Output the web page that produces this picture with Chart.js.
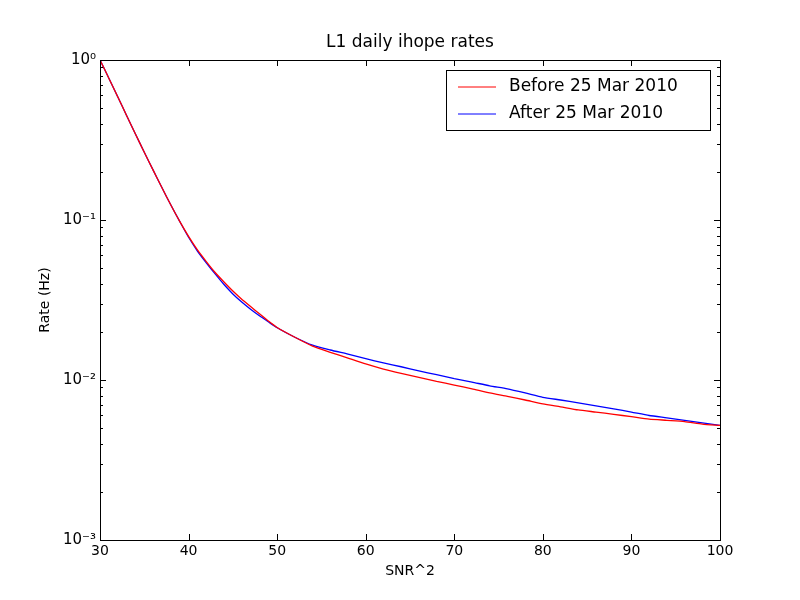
<!DOCTYPE html>
<html>
<head>
<meta charset="utf-8">
<script src="https://cdn.jsdelivr.net/npm/chart.js@4"></script>
<style>
  body { margin: 0; background: #fff; }
  #wrap { width: 800px; height: 600px; }
</style>
</head>
<body>
<div id="wrap"><canvas id="myChart" width="800" height="600"></canvas></div>
<script>
const snr = [30, 31, 32, 33, 34, 35, 36, 37, 38, 39, 40, 41, 42, 43, 44, 45, 46, 47, 48, 49, 50,
  52, 54, 56, 58, 60, 62, 64, 66, 68, 70, 72, 74, 76, 78, 80, 82, 84, 86, 88, 90, 92, 94, 96, 98, 100];

const beforeRates = [1.0, 0.77, 0.59, 0.45, 0.345, 0.265, 0.205, 0.159, 0.124, 0.098, 0.079, 0.065, 0.055, 0.047, 0.041, 0.036, 0.032, 0.0288, 0.0259, 0.0234, 0.0213,
  0.0185, 0.0163, 0.0149, 0.0137, 0.0126, 0.0117, 0.0110, 0.0104, 0.0098, 0.0093, 0.0088, 0.0083, 0.0079, 0.0075, 0.0071,
  0.0068, 0.0065, 0.0063, 0.0061, 0.0059, 0.0057, 0.0056, 0.0055, 0.0053, 0.0052];

const afterRates = [1.0, 0.77, 0.59, 0.45, 0.345, 0.265, 0.205, 0.159, 0.124, 0.098, 0.078, 0.064, 0.054, 0.046, 0.0395, 0.0345, 0.0307, 0.0277, 0.0252, 0.0231, 0.0212,
  0.0185, 0.0165, 0.0154, 0.0145, 0.0136, 0.0128, 0.0121, 0.0114, 0.0108, 0.0102, 0.0097, 0.0092, 0.0088, 0.0083, 0.0078,
  0.0075, 0.0072, 0.0069, 0.0066, 0.0063, 0.0060, 0.0058, 0.0056, 0.0054, 0.0052];

const xTicks = [30, 40, 50, 60, 70, 80, 90, 100];
const yDecades = [0.001, 0.01, 0.1, 1];
const yDecadeLabels = ['10⁻³', '10⁻²', '10⁻¹', '10⁰'];

const seriesNames = ['Before 25 Mar 2010', 'After 25 Mar 2010'];
const seriesColors = ['#ff0000', '#0000ff'];

const FONT = 'DejaVu Sans';

function yMinorTicks() {
  const t = [];
  for (let d = 0; d < yDecades.length - 1; d++) {
    for (let m = 2; m <= 9; m++) t.push(yDecades[d] * m);
  }
  return t;
}

const framePlugin = {
  id: 'frame',
  afterDraw(chart) {
    const ctx = chart.ctx;
    const a = chart.chartArea;
    const xs = chart.scales.x, ys = chart.scales.y;
    ctx.save();
    ctx.strokeStyle = '#000';
    ctx.lineWidth = 1;
    ctx.strokeRect(a.left + 0.5, a.top + 0.5, a.right - a.left, a.bottom - a.top);
    ctx.beginPath();
    xTicks.forEach(v => {
      const px = Math.round(xs.getPixelForValue(v)) + 0.5;
      ctx.moveTo(px, a.bottom); ctx.lineTo(px, a.bottom - 6);
      ctx.moveTo(px, a.top); ctx.lineTo(px, a.top + 6);
    });
    yDecades.forEach(v => {
      const py = Math.round(ys.getPixelForValue(v)) + 0.5;
      ctx.moveTo(a.left, py); ctx.lineTo(a.left + 6, py);
      ctx.moveTo(a.right, py); ctx.lineTo(a.right - 6, py);
    });
    yMinorTicks().forEach(v => {
      const py = Math.round(ys.getPixelForValue(v)) + 0.5;
      ctx.moveTo(a.left, py); ctx.lineTo(a.left + 3, py);
      ctx.moveTo(a.right, py); ctx.lineTo(a.right - 3, py);
    });
    ctx.stroke();

    ctx.fillStyle = '#000';
    ctx.font = '14px ' + FONT;
    ctx.textAlign = 'center';
    ctx.textBaseline = 'top';
    xTicks.forEach(v => ctx.fillText(String(v), xs.getPixelForValue(v), a.bottom + 4));
    ctx.textAlign = 'right';
    ctx.textBaseline = 'middle';
    ctx.font = '15px ' + FONT;
    yDecades.forEach((v, i) => ctx.fillText(yDecadeLabels[i], a.left - 4, ys.getPixelForValue(v)));

    ctx.textAlign = 'center';
    ctx.textBaseline = 'middle';
    ctx.font = '17px ' + FONT;
    ctx.fillText('L1 daily ihope rates', (a.left + a.right) / 2, 43);
    ctx.font = '14px ' + FONT;
    ctx.fillText('SNR^2', (a.left + a.right) / 2, 571);
    ctx.save();
    ctx.translate(45, (a.top + a.bottom) / 2);
    ctx.rotate(-Math.PI / 2);
    ctx.fillText('Rate (Hz)', 0, 0);
    ctx.restore();

    // legend
    const lx = 446, ly = 70, lw = 264, lh = 60;
    ctx.fillStyle = '#fff';
    ctx.fillRect(lx, ly, lw, lh);
    ctx.strokeRect(lx + 0.5, ly + 0.5, lw, lh);
    ctx.font = '17px ' + FONT;
    ctx.textAlign = 'left';
    seriesNames.forEach((n, i) => {
      const yy = ly + 17 + i * 27;
      ctx.strokeStyle = seriesColors[i];
      ctx.beginPath();
      ctx.moveTo(lx + 12, yy); ctx.lineTo(lx + 50, yy);
      ctx.stroke();
      ctx.fillStyle = '#000';
      ctx.fillText(n, lx + 63, yy);
    });
    ctx.restore();
  }
};

const data = {
  labels: snr,
  datasets: seriesNames.map((n, i) => ({
    label: n,
    data: snr.map((x, j) => ({ x: x, y: (i === 0 ? beforeRates : afterRates)[j] })),
    borderColor: seriesColors[i],
    borderWidth: 1.3,
    pointRadius: 0,
    tension: 0.2,
    fill: false,
  })),
};

const config = {
  type: 'line',
  data: data,
  options: {
    responsive: false,
    animation: false,
    layout: { padding: { left: 0, right: 80, top: 60, bottom: 0 } },
    plugins: { legend: { display: false }, title: { display: false }, tooltip: { enabled: false } },
    scales: {
      x: {
        type: 'linear', min: 30, max: 100,
        grid: { display: false }, border: { display: false },
        ticks: { display: false },
        afterFit(s) { s.height = 60; },
      },
      y: {
        type: 'logarithmic', min: 0.001, max: 1,
        grid: { display: false }, border: { display: false },
        ticks: { display: false },
        afterFit(s) { s.width = 100; },
      },
    },
  },
  plugins: [framePlugin],
};

const myChart = new Chart(document.getElementById('myChart'), config);
</script>
</body>
</html>
